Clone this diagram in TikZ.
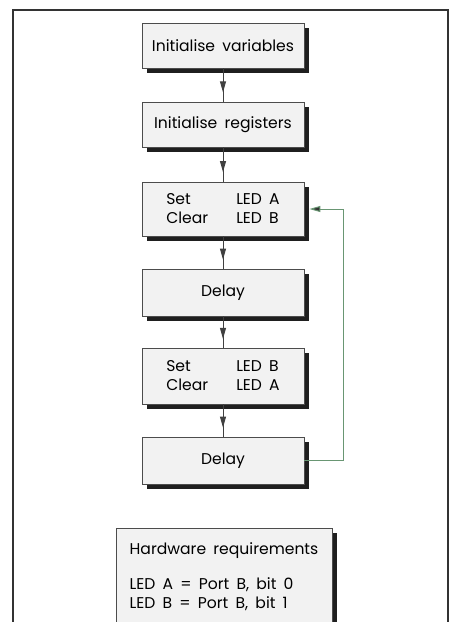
\documentclass[tikz,border=0pt]{standalone}
\usepackage{fontspec}
\setmainfont{Poppins}
\usetikzlibrary{backgrounds,arrows.meta,decorations.markings}
\newcommand\boxfont{\fontsize{7.8}{9.5}\selectfont\spaceskip=3.6pt plus 1pt\relax}
\begin{document}
\begin{tikzpicture}[x=0.5pt,y=-0.5pt,
  stepbox/.style={draw=black!70,line width=0.4pt,fill=black!5,
    minimum width=81pt,inner sep=2pt,align=left,font=\boxfont},
  boxshade/.style={fill=black!88},
  flow/.style={draw=black!75,line width=0.5pt,postaction={decorate},
    decoration={markings,mark=at position 0.72 with {\arrow{Triangle[length=5.5pt,width=3pt]}}}},
  back/.style={draw={rgb,255:red,105;green,150;blue,115},line width=0.5pt,
    -{Triangle[length=5.5pt,width=3pt,fill=black!80]}}]
\clip (0,0) rectangle (452,622);
% outer frame
\draw[black!80,line width=0.8pt] (13,10) rectangle (448,660);
% boxes
\node[stepbox,minimum height=22.5pt] (vars) at (223,45.5) {Initialise variables};
\node[stepbox,minimum height=22.5pt] (regs) at (223,124.5) {Initialise registers};
\node[stepbox,minimum height=27pt] (ledA) at (223,209)
  {\makebox[35pt][l]{Set}LED A\\\makebox[35pt][l]{Clear}LED B};
\node[stepbox,minimum height=23.5pt] (wait1) at (223,292.5) {Delay};
\node[stepbox,minimum height=28pt] (ledB) at (223,376)
  {\makebox[35pt][l]{Set}LED B\\\makebox[35pt][l]{Clear}LED A};
\node[stepbox,minimum height=23.5pt] (wait2) at (223,460.5) {Delay};
% hardware note
\node[stepbox,minimum width=108pt,anchor=north,inner xsep=4pt,inner ysep=7pt] (hw) at (224,528)
  {Hardware requirements\\[8pt]
   LED A = Port B, bit 0\\
   LED B = Port B, bit 1\\[20pt]};
% shadows
\begin{scope}[on background layer]
\fill[white] (0,0) rectangle (452,622);
\foreach \b in {vars,regs,ledA,wait1,ledB,wait2,hw}
  \fill[boxshade] ([xshift=2.5pt,yshift=-2.5pt]\b.south west) rectangle ([xshift=2.5pt,yshift=-2.5pt]\b.north east);
\end{scope}
% arrows
\draw[flow] (vars.south) -- (regs.north);
\draw[flow] (regs.south) -- (ledA.north);
\draw[flow] (ledA.south) -- (wait1.north);
\draw[flow] (wait1.south) -- (ledB.north);
\draw[flow] (ledB.south) -- (wait2.north);
% loop back
\coordinate (turn) at (343,460.5);
\draw[back,shorten >=2.5pt] (wait2.east) -- (turn) |- (ledA.east);
\end{tikzpicture}
\end{document}
